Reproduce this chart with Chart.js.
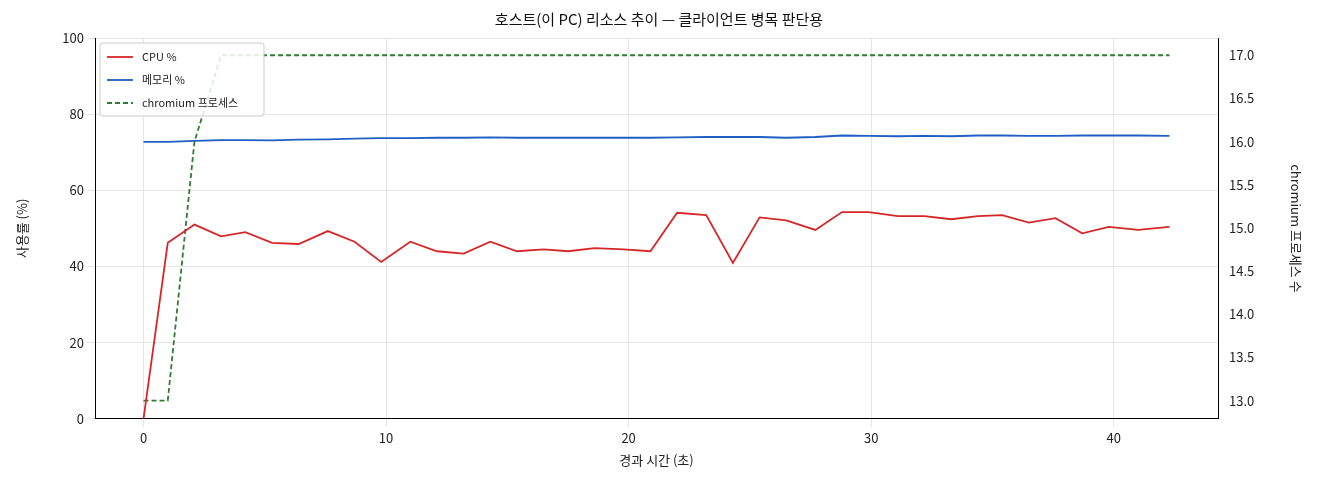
<!DOCTYPE html>
<html><head><meta charset="utf-8">
<script src="https://cdn.jsdelivr.net/npm/chart.js@4"></script>
<style>html,body{margin:0;background:#fff}#w{width:1320px;height:480px}</style>
</head><body><div id="w"><canvas id="c"></canvas></div>
<script>
const times=[0,1.0,2.1,3.2,4.2,5.3,6.4,7.6,8.7,9.8,11.0,12.1,13.2,14.3,15.4,16.5,17.5,18.6,19.8,20.9,22.0,23.2,24.3,25.4,26.5,27.7,28.8,29.9,31.1,32.2,33.3,34.4,35.4,36.5,37.6,38.7,39.8,41.0,42.3];
const cpu=[0,46.2,51,47.9,49,46.2,45.9,49.3,46.5,41.2,46.5,44,43.4,46.5,44,44.5,44,44.8,44.5,44,54.1,53.5,40.9,52.9,52.1,49.6,54.3,54.3,53.2,53.2,52.4,53.2,53.5,51.5,52.7,48.7,50.4,49.6,50.4];
const mem=[72.7,72.7,73.0,73.2,73.2,73.1,73.3,73.4,73.6,73.7,73.7,73.8,73.8,73.9,73.8,73.8,73.8,73.8,73.8,73.8,73.9,74.0,74.0,74.0,73.8,74.0,74.4,74.3,74.2,74.3,74.2,74.4,74.4,74.3,74.3,74.4,74.4,74.4,74.3];
const procs=[13,13,16,17,17,17,17,17,17,17,17,17,17,17,17,17,17,17,17,17,17,17,17,17,17,17,17,17,17,17,17,17,17,17,17,17,17,17,17];
const pts=a=>a.map((v,i)=>({x:times[i],y:v}));
const F="'Noto Sans CJK KR','DejaVu Sans',sans-serif";
Chart.defaults.font.family=F;Chart.defaults.color='#222';
const legendPlugin={id:'lg',afterDraw(ch){const c=ch.ctx,a=ch.chartArea;const x=a.left+5,y=a.top+5;
c.save();c.fillStyle='rgba(255,255,255,0.85)';c.strokeStyle='#ccc';c.lineWidth=1;
c.beginPath();c.roundRect(x,y,164,73,3);c.fill();c.stroke();
const items=[['CPU %','#d62728',[]],['메모리 %','#1f5fc4',[]],['chromium 프로세스','#2e7d32',[5,3]]];
c.font="11px "+F;c.textBaseline='middle';
items.forEach((it,i)=>{const yy=y+14+i*23;c.strokeStyle=it[1];c.lineWidth=1.8;c.setLineDash(it[2]);
c.beginPath();c.moveTo(x+7,yy);c.lineTo(x+33,yy);c.stroke();c.setLineDash([]);c.fillStyle='#222';c.fillText(it[0],x+42,yy);});
c.restore();}};
new Chart(document.getElementById('c'),{type:'line',
data:{datasets:[
{label:'CPU %',data:pts(cpu),borderColor:'#d62728',borderWidth:1.8,pointRadius:0,yAxisID:'y'},
{label:'메모리 %',data:pts(mem),borderColor:'#1f5fc4',borderWidth:1.8,pointRadius:0,yAxisID:'y'},
{label:'chromium 프로세스',data:pts(procs),borderColor:'#2e7d32',borderWidth:1.8,borderDash:[5,3],pointRadius:0,yAxisID:'y2'}]},
options:{responsive:true,maintainAspectRatio:false,animation:false,
layout:{padding:{left:10,right:12,top:4,bottom:8}},
plugins:{legend:{display:false},tooltip:{enabled:false},
title:{display:true,text:'호스트(이 PC) 리소스 추이 — 클라이언트 병목 판단용',font:{size:15,weight:'normal'},color:'#111',padding:{top:6,bottom:10}}},
scales:{
x:{type:'linear',min:-2,max:44.3,border:{color:'#000'},grid:{color:'#e5e5e5'},
ticks:{font:{size:13}},
afterBuildTicks:s=>{s.ticks=[0,10,20,30,40].map(v=>({value:v}))},
title:{display:true,text:'경과 시간 (초)',font:{size:13}}},
y:{min:0,max:100,position:'left',border:{color:'#000'},grid:{color:'#e5e5e5'},ticks:{stepSize:20,font:{size:13}},
title:{display:true,text:'사용률 (%)',font:{size:13}},afterFit:s=>{s.width=85}},
y2:{min:12.79,max:17.2,position:'right',border:{color:'#000'},grid:{display:false},
afterBuildTicks:s=>{s.ticks=[13,13.5,14,14.5,15,15.5,16,16.5,17].map(v=>({value:v}))},
ticks:{font:{size:13},callback:v=>Number(v).toFixed(1)},
title:{display:true,text:'chromium 프로세스 수',font:{size:13}},afterFit:s=>{s.width=90}}}},
plugins:[legendPlugin]});
</script></body></html>
